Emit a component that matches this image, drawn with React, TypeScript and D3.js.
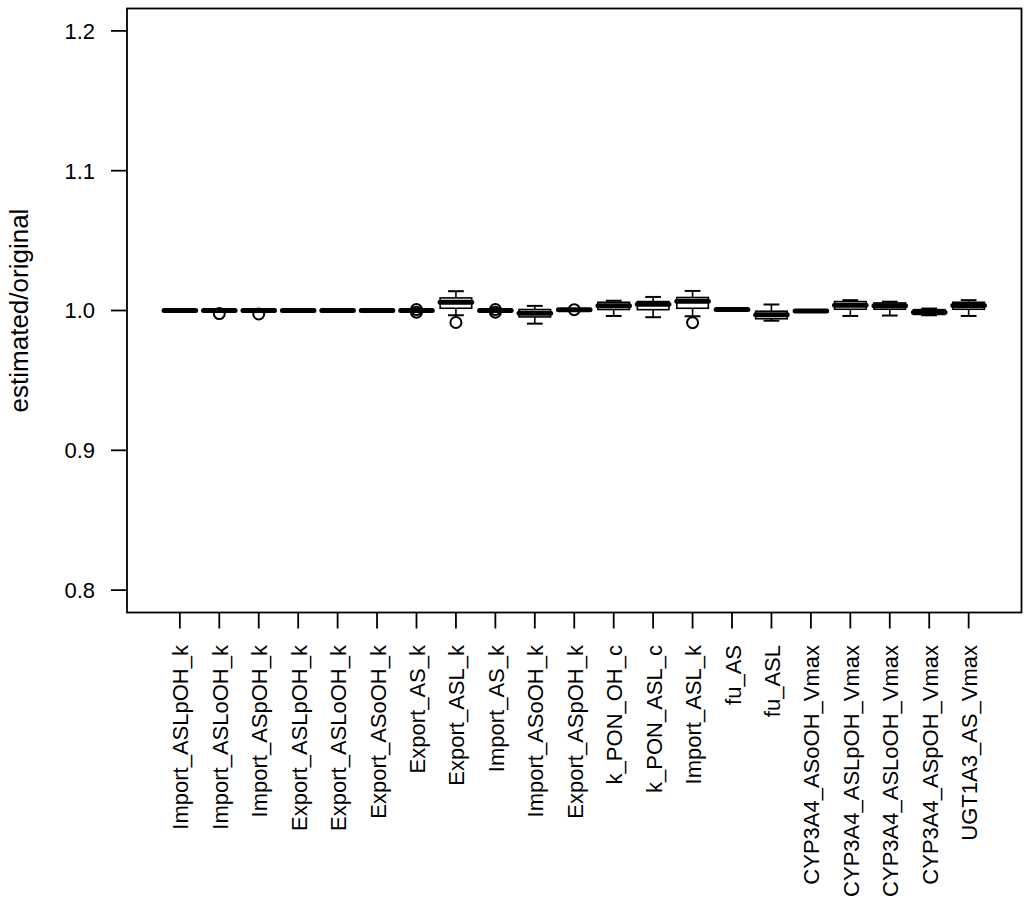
import React from "react";
import * as d3 from "d3";

const categories = [
  "Import_ASLpOH_k", "Import_ASLoOH_k", "Import_ASpOH_k", "Export_ASLpOH_k",
  "Export_ASLoOH_k", "Export_ASoOH_k", "Export_AS_k", "Export_ASL_k",
  "Import_AS_k", "Import_ASoOH_k", "Export_ASpOH_k", "k_PON_OH_c",
  "k_PON_ASL_c", "Import_ASL_k", "fu_AS", "fu_ASL",
  "CYP3A4_ASoOH_Vmax", "CYP3A4_ASLpOH_Vmax", "CYP3A4_ASLoOH_Vmax",
  "CYP3A4_ASpOH_Vmax", "UGT1A3_AS_Vmax",
];

const lowerWhisker = [0.9998, 0.9998, 0.9998, 0.9998, 0.9998, 0.9998, 0.9999, 0.9966, 0.9999, 0.9906, 1.0003, 0.9961, 0.9952, 0.9959, 1.0005, 0.9927, 0.9995, 0.9961, 0.9964, 0.9966, 0.9961];
const q1 = [0.9998, 0.9998, 0.9998, 0.9998, 0.9998, 0.9998, 0.9999, 1.0016, 0.9999, 0.9954, 1.0003, 1.0007, 1.0006, 1.0016, 1.0005, 0.9941, 0.9995, 1.0009, 1.0009, 0.9972, 1.0009];
const median = [1.0, 1.0, 1.0, 1.0, 1.0, 1.0, 1.0, 1.0059, 1.0, 0.998, 1.0005, 1.0034, 1.0045, 1.0066, 1.0007, 0.997, 0.9997, 1.0038, 1.0034, 0.9988, 1.0036];
const q3 = [1.0002, 1.0002, 1.0002, 1.0002, 1.0002, 1.0002, 1.0001, 1.009, 1.0001, 1.0007, 1.0007, 1.0059, 1.0064, 1.0093, 1.0009, 0.9995, 0.9999, 1.0064, 1.0054, 1.0006, 1.0059];
const upperWhisker = [1.0002, 1.0002, 1.0002, 1.0002, 1.0002, 1.0002, 1.0001, 1.0138, 1.0001, 1.0033, 1.0007, 1.007, 1.0097, 1.014, 1.0009, 1.0043, 0.9999, 1.0074, 1.0063, 1.0014, 1.0074];
const outliers: number[][] = [
  [], [0.9978], [0.9975], [], [], [], [1.0007, 0.9988], [0.9914],
  [1.0007, 0.9988], [], [1.0006], [], [], [0.9913], [], [], [], [], [], [], [],
];

const yTicks = [0.8, 0.9, 1.0, 1.1, 1.2];
const yLabel = "estimated/original";

const W = 1024;
const H = 908;
const left = 127;
const right = 1021.5;
const top = 8.5;
const bottom = 612.5;

export default function App() {
  const n = categories.length;
  const x = d3.scaleLinear().domain([0.5 - 0.04 * n, n + 0.5 + 0.04 * n]).range([left, right]);
  const y = d3.scaleLinear().domain([0.784, 1.216]).range([bottom, top]);
  const unit = x(2) - x(1);
  const halfBox = 0.4 * unit;
  const halfStaple = 0.2 * unit;
  const font = "'Liberation Sans', Arial, Helvetica, sans-serif";

  return (
    <svg width={W} height={H} style={{ position: "absolute", left: 0, top: 0, background: "#fff" }}
      fontFamily={font}>
      <rect x={0} y={0} width={W} height={H} fill="#fff" />
      {categories.map((c, i) => {
        const cx = x(i + 1);
        return (
          <g key={c}>
            <line x1={cx} x2={cx} y1={y(upperWhisker[i])} y2={y(q3[i])} stroke="#000" strokeWidth={1.6} />
            <line x1={cx} x2={cx} y1={y(lowerWhisker[i])} y2={y(q1[i])} stroke="#000" strokeWidth={1.6} />
            <line x1={cx - halfStaple} x2={cx + halfStaple} y1={y(upperWhisker[i])} y2={y(upperWhisker[i])} stroke="#000" strokeWidth={2} />
            <line x1={cx - halfStaple} x2={cx + halfStaple} y1={y(lowerWhisker[i])} y2={y(lowerWhisker[i])} stroke="#000" strokeWidth={2} />
            <rect x={cx - halfBox} y={y(q3[i])} width={2 * halfBox}
              height={Math.max(0, y(q1[i]) - y(q3[i]))} fill="#fff" stroke="#000" strokeWidth={1.6} />
            <line x1={cx - halfBox} x2={cx + halfBox} y1={y(median[i])} y2={y(median[i])}
              stroke="#000" strokeWidth={5} strokeLinecap="round" />
            {outliers[i].map((o, k) => (
              <circle key={k} cx={cx} cy={y(o)} r={5.5} fill="none" stroke="#000" strokeWidth={2} />
            ))}
          </g>
        );
      })}
      <rect x={left} y={top} width={right - left} height={bottom - top} fill="none" stroke="#000" strokeWidth={1.8} />
      {yTicks.map((t) => (
        <g key={t}>
          <line x1={left - 16} x2={left} y1={y(t)} y2={y(t)} stroke="#000" strokeWidth={1.8} />
          <text x={95} y={y(t)} dy="0.36em" textAnchor="end" fontSize={22}>{t.toFixed(1)}</text>
        </g>
      ))}
      {categories.map((c, i) => {
        const cx = x(i + 1);
        return (
          <g key={"t" + c}>
            <line x1={cx} x2={cx} y1={bottom} y2={bottom + 16} stroke="#000" strokeWidth={1.8} />
            <text transform={`translate(${cx + 8.5},645) rotate(-90)`} textAnchor="end" fontSize={22}>{c}</text>
          </g>
        );
      })}
      <text transform={`translate(28,${(top + bottom) / 2}) rotate(-90)`} textAnchor="middle" fontSize={26}>{yLabel}</text>
    </svg>
  );
}
